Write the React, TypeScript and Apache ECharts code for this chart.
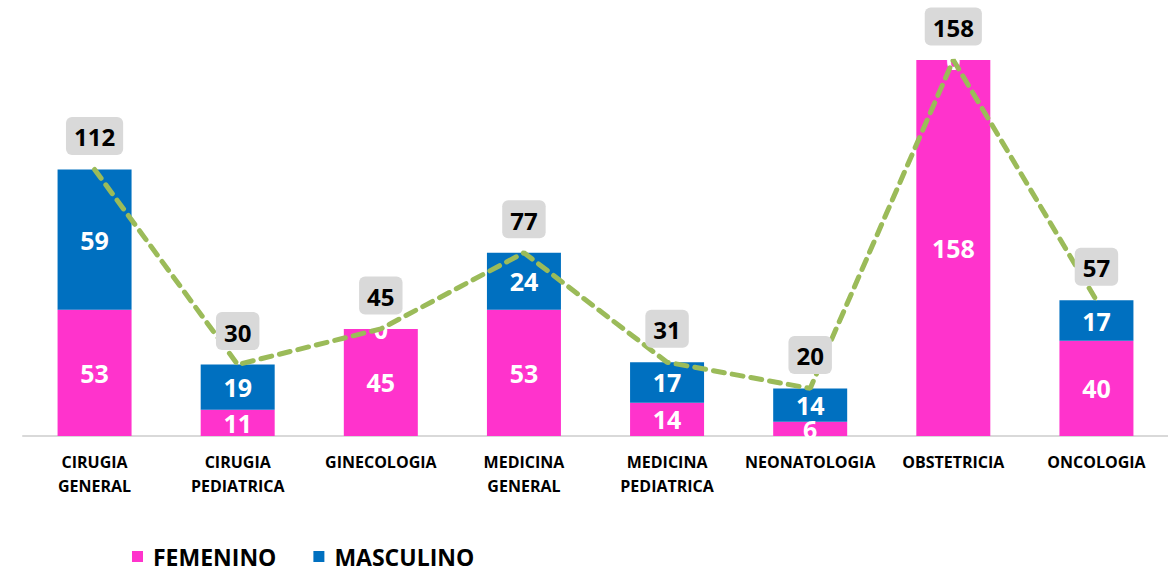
import React, { useEffect, useRef } from "react";
import * as echarts from "echarts";

const categories = [
  "CIRUGIA\nGENERAL",
  "CIRUGIA\nPEDIATRICA",
  "GINECOLOGIA",
  "MEDICINA\nGENERAL",
  "MEDICINA\nPEDIATRICA",
  "NEONATOLOGIA",
  "OBSTETRICIA",
  "ONCOLOGIA",
];
const femenino = [53, 11, 45, 53, 14, 6, 158, 40];
const masculino = [59, 19, 0, 24, 17, 14, 0, 17];
const total = [112, 30, 45, 77, 31, 20, 158, 57];

const FONT = "'Open Sans', 'Noto Sans', sans-serif";

export default function App() {
  const ref = useRef<HTMLDivElement>(null);
  useEffect(() => {
    document.body.style.margin = "0";
    const chart = echarts.init(ref.current!, null, { renderer: "svg" });
    const barLabel = {
      show: true,
      position: "inside",
      color: "#ffffff",
      fontFamily: FONT,
      fontWeight: "bold",
      fontSize: 25,
    };
    chart.setOption({
      animation: false,
      textStyle: { fontFamily: FONT },
      grid: { left: 23, right: -8, top: 60, bottom: 138, containLabel: false },
      legend: {
        data: ["FEMENINO", "MASCULINO"],
        left: 127,
        top: 540,
        icon: "rect",
        itemWidth: 11,
        itemHeight: 11,
        itemGap: 37,
        textStyle: {
          fontFamily: FONT,
          fontWeight: "bold",
          fontSize: 23,
          color: "#000",
          padding: [0, 0, 0, 5],
        },
      },
      xAxis: {
        type: "category",
        data: categories,
        axisLine: { lineStyle: { color: "#D9D9D9", width: 2 } },
        axisTick: { show: false },
        axisLabel: {
          interval: 0,
          color: "#000",
          fontFamily: FONT,
          fontWeight: "bold",
          fontSize: 16,
          lineHeight: 24,
          margin: 14,
        },
      },
      yAxis: {
        type: "value",
        min: 0,
        max: 158,
        show: false,
        splitLine: { show: false },
      },
      series: [
        {
          name: "FEMENINO",
          type: "bar",
          stack: "t",
          barWidth: 74,
          data: femenino,
          itemStyle: { color: "#FF33CC" },
          label: barLabel,
          z: 2,
        },
        {
          name: "MASCULINO",
          type: "bar",
          stack: "t",
          barWidth: 74,
          data: masculino,
          itemStyle: { color: "#0070C0" },
          label: { ...barLabel },
          z: 2,
          zlevel: 0,
        },
        {
          name: "TOTAL",
          type: "line",
          data: total,
          symbol: "circle",
          symbolSize: 1,
          itemStyle: { color: "#9BBB59" },
          lineStyle: { color: "#9BBB59", width: 5, type: [11, 8], cap: "round" },
          z: 5,
          label: {
            show: true,
            position: "top",
            distance: 14,
            color: "#000",
            fontFamily: FONT,
            fontWeight: "bold",
            fontSize: 24,
            backgroundColor: "#D9D9D9",
            borderRadius: 6,
            padding: [8, 8, 6, 8],
          },
        },
      ],
    });
    return () => chart.dispose();
  }, []);
  return <div ref={ref} style={{ width: 1168, height: 574 }} />;
}
